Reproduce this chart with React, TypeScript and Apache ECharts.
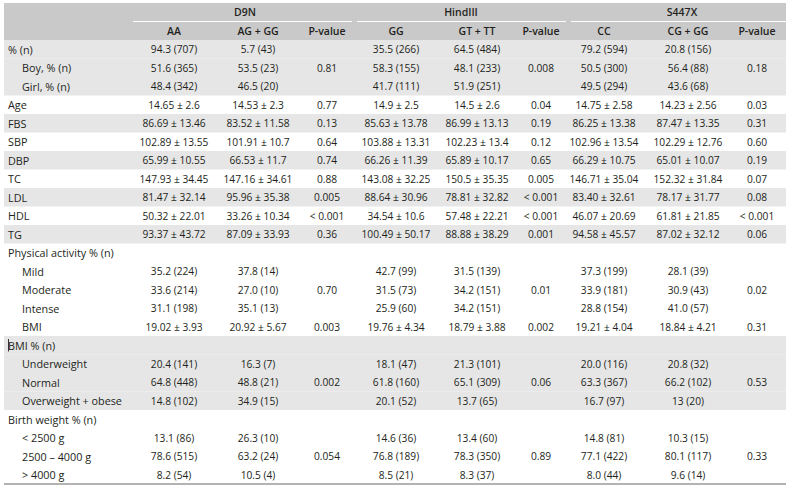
import React, { useEffect, useRef } from "react";
import * as echarts from "echarts";

const groups = ["D9N", "HindIII", "S447X"];
const subHeaders = ["AA", "AG + GG", "P-value", "GG", "GT + TT", "P-value", "CC", "CG + GG", "P-value"];
const rowLabels = [
  "% (n)", "Boy, % (n)", "Girl, % (n)", "Age", "FBS", "SBP", "DBP", "TC", "LDL", "HDL", "TG",
  "Physical activity % (n)", "Mild", "Moderate", "Intense", "BMI",
  "BMI % (n)", "Underweight", "Normal", "Overweight + obese",
  "Birth weight % (n)", "< 2500 g", "2500 \u2013 4000 g", "> 4000 g",
];
const aa = ["94.3 (707)", "51.6 (365)", "48.4 (342)", "14.65 ± 2.6", "86.69 ± 13.46", "102.89 ± 13.55", "65.99 ± 10.55", "147.93 ± 34.45", "81.47 ± 32.14", "50.32 ± 22.01", "93.37 ± 43.72", "", "35.2 (224)", "33.6 (214)", "31.1 (198)", "19.02 ± 3.93", "", "20.4 (141)", "64.8 (448)", "14.8 (102)", "", "13.1 (86)", "78.6 (515)", "8.2 (54)"];
const agGG = ["5.7 (43)", "53.5 (23)", "46.5 (20)", "14.53 ± 2.3", "83.52 ± 11.58", "101.91 ± 10.7", "66.53 ± 11.7", "147.16 ± 34.61", "95.96 ± 35.38", "33.26 ± 10.34", "87.09 ± 33.93", "", "37.8 (14)", "27.0 (10)", "35.1 (13)", "20.92 ± 5.67", "", "16.3 (7)", "48.8 (21)", "34.9 (15)", "", "26.3 (10)", "63.2 (24)", "10.5 (4)"];
const pD9N = ["", "0.81", "", "0.77", "0.13", "0.64", "0.74", "0.88", "0.005", "< 0.001", "0.36", "", "", "0.70", "", "0.003", "", "", "0.002", "", "", "", "0.054", ""];
const gg = ["35.5 (266)", "58.3 (155)", "41.7 (111)", "14.9 ± 2.5", "85.63 ± 13.78", "103.88 ± 13.31", "66.26 ± 11.39", "143.08 ± 32.25", "88.64 ± 30.96", "34.54 ± 10.6", "100.49 ± 50.17", "", "42.7 (99)", "31.5 (73)", "25.9 (60)", "19.76 ± 4.34", "", "18.1 (47)", "61.8 (160)", "20.1 (52)", "", "14.6 (36)", "76.8 (189)", "8.5 (21)"];
const gtTT = ["64.5 (484)", "48.1 (233)", "51.9 (251)", "14.5 ± 2.6", "86.99 ± 13.13", "102.23 ± 13.4", "65.89 ± 10.17", "150.5 ± 35.35", "78.81 ± 32.82", "57.48 ± 22.21", "88.88 ± 38.29", "", "31.5 (139)", "34.2 (151)", "34.2 (151)", "18.79 ± 3.88", "", "21.3 (101)", "65.1 (309)", "13.7 (65)", "", "13.4 (60)", "78.3 (350)", "8.3 (37)"];
const pHind = ["", "0.008", "", "0.04", "0.19", "0.12", "0.65", "0.005", "< 0.001", "< 0.001", "0.001", "", "", "0.01", "", "0.002", "", "", "0.06", "", "", "", "0.89", ""];
const cc = ["79.2 (594)", "50.5 (300)", "49.5 (294)", "14.75 ± 2.58", "86.25 ± 13.38", "102.96 ± 13.54", "66.29 ± 10.75", "146.71 ± 35.04", "83.40 ± 32.61", "46.07 ± 20.69", "94.58 ± 45.57", "", "37.3 (199)", "33.9 (181)", "28.8 (154)", "19.21 ± 4.04", "", "20.0 (116)", "63.3 (367)", "16.7 (97)", "", "14.8 (81)", "77.1 (422)", "8.0 (44)"];
const cgGG = ["20.8 (156)", "56.4 (88)", "43.6 (68)", "14.23 ± 2.56", "87.47 ± 13.35", "102.29 ± 12.76", "65.01 ± 10.07", "152.32 ± 31.84", "78.17 ± 31.77", "61.81 ± 21.85", "87.02 ± 32.12", "", "28.1 (39)", "30.9 (43)", "41.0 (57)", "18.84 ± 4.21", "", "20.8 (32)", "66.2 (102)", "13 (20)", "", "10.3 (15)", "80.1 (117)", "9.6 (14)"];
const pS447 = ["", "0.18", "", "0.03", "0.31", "0.60", "0.19", "0.07", "0.08", "< 0.001", "0.06", "", "", "0.02", "", "0.31", "", "", "0.53", "", "", "", "0.33", ""];

// layout (styling only)
const rowIndent = [0, 1, 1, 0, 0, 0, 0, 0, 0, 0, 0, 0, 1, 1, 1, 1, 0, 1, 1, 1, 0, 1, 1, 1];
const rowShaded = [1, 1, 1, 0, 1, 0, 1, 0, 1, 0, 1, 0, 0, 0, 0, 0, 1, 1, 1, 1, 0, 0, 0, 0];
const colCenters = [174, 258, 327, 396, 477, 541, 604, 688, 757];
const groupSpans = [[133, 352], [357, 566], [571, 786]];
const groupCenters = [245, 461, 682];

const TOP = 3;
const ROW_H = 18.5;
const LEFT = 4;
const RIGHT = 786;
const FONT = "'Open Sans', 'Noto Sans', sans-serif";
const TXT = "#231f20";

export default function App() {
  const ref = useRef<HTMLDivElement>(null);
  useEffect(() => {
    if (!ref.current) return;
    const chart = echarts.init(ref.current, undefined, { renderer: "svg" });
    const cols = [aa, agGG, pD9N, gg, gtTT, pHind, cc, cgGG, pS447];
    const els: any[] = [];
    els.push({ type: "rect", shape: { x: LEFT, y: TOP, width: RIGHT - LEFT, height: ROW_H * 2 }, style: { fill: "#c9c9c9" }, silent: true });
    rowLabels.forEach((_, i) => {
      if (rowShaded[i]) {
        els.push({ type: "rect", shape: { x: LEFT, y: TOP + ROW_H * (i + 2), width: RIGHT - LEFT, height: ROW_H }, style: { fill: "#e6e6e6" }, silent: true });
      }
    });
    groupSpans.forEach((s) => {
      els.push({ type: "line", shape: { x1: s[0], y1: TOP + ROW_H, x2: s[1], y2: TOP + ROW_H }, style: { stroke: "#ffffff", lineWidth: 1.2 }, silent: true });
    });
    groups.forEach((g, i) => {
      els.push({ type: "text", x: groupCenters[i], y: TOP + ROW_H / 2, style: { text: g, fill: TXT, font: `600 10.5px ${FONT}`, align: "center", verticalAlign: "middle" } });
    });
    subHeaders.forEach((h, i) => {
      els.push({ type: "text", x: colCenters[i], y: TOP + ROW_H * 1.5, style: { text: h, fill: TXT, font: `600 10.5px ${FONT}`, align: "center", verticalAlign: "middle" } });
    });
    rowLabels.forEach((lab, i) => {
      const cy = TOP + ROW_H * (i + 2) + ROW_H / 2;
      els.push({ type: "text", x: rowIndent[i] ? 22 : 8, y: cy, style: { text: lab, fill: TXT, font: `10.8px ${FONT}`, align: "left", verticalAlign: "middle" } });
      cols.forEach((col, c) => {
        if (col[i]) {
          els.push({ type: "text", x: colCenters[c], y: cy, style: { text: col[i], fill: TXT, font: `10.2px ${FONT}`, align: "center", verticalAlign: "middle" } });
        }
      });
    });
    const caretRow = 16;
    els.push({ type: "line", shape: { x1: 8.5, y1: TOP + ROW_H * (caretRow + 2) + 3, x2: 8.5, y2: TOP + ROW_H * (caretRow + 3) - 3 }, style: { stroke: "#333", lineWidth: 1 }, silent: true });
    const bottom = TOP + ROW_H * (rowLabels.length + 2);
    els.push({ type: "line", shape: { x1: LEFT, y1: bottom, x2: RIGHT, y2: bottom }, style: { stroke: "#9a9a9a", lineWidth: 1.5 }, silent: true });

    chart.setOption({ animation: false, backgroundColor: "#ffffff", graphic: { elements: els } });
    return () => chart.dispose();
  }, []);
  return <div ref={ref} style={{ position: "fixed", left: 0, top: 0, width: 790, height: 486 }} />;
}
